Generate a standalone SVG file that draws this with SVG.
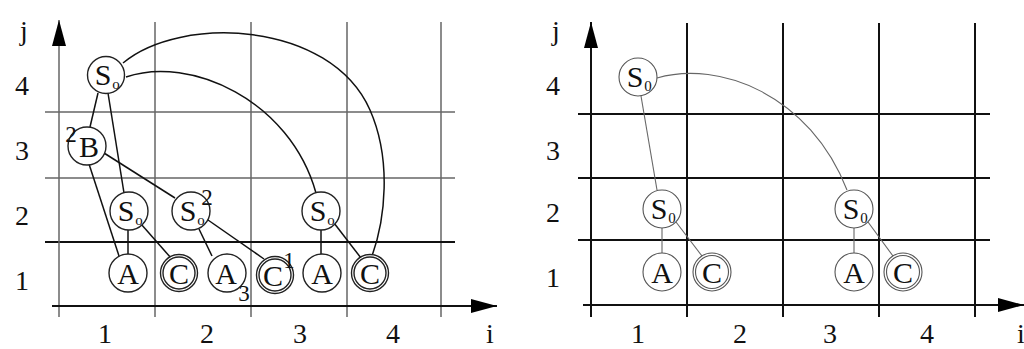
<svg xmlns="http://www.w3.org/2000/svg" width="1024" height="349" viewBox="0 0 1024 349">
<defs>
<marker id="arr" viewBox="0 0 26 14" refX="26" refY="7" markerWidth="26" markerHeight="14" markerUnits="userSpaceOnUse" orient="auto"><path d="M0,0 L26,7 L0,14 z" fill="#000"/></marker>
<style>
.lg{stroke:#666;stroke-width:1.5;fill:none}
.lk{stroke:#111;stroke-width:1.8;fill:none}
.rg{stroke:#111;stroke-width:2;fill:none}
.le{stroke:#111;stroke-width:1.5;fill:none}
.re{stroke:#666;stroke-width:1.1;fill:none}
.lc{stroke:#222;stroke-width:1.4;fill:#fff}
.rc{stroke:#555;stroke-width:1.1;fill:#fff}
.in{fill:none}
.ax{font-family:"Liberation Serif","Times New Roman",serif;font-size:28px;fill:#111;text-anchor:middle}
.nl{font-family:"Liberation Serif","Times New Roman",serif;font-size:30px;fill:#111;text-anchor:middle}
.sb{font-family:"Liberation Serif","Times New Roman",serif;font-size:15px;fill:#111;text-anchor:middle}
.sp{font-family:"Liberation Serif","Times New Roman",serif;font-size:23px;fill:#111;text-anchor:middle}
</style>
</defs>
<rect width="1024" height="349" fill="#fff"/>

<!-- LEFT PANEL -->
<g id="left-grid">
<line class="lg" x1="155" y1="22" x2="155" y2="317"/>
<line class="lg" x1="251" y1="22" x2="251" y2="317"/>
<line class="lg" x1="347" y1="22" x2="347" y2="317"/>
<line class="lg" x1="441" y1="22" x2="441" y2="317"/>
<line class="lg" x1="45" y1="112" x2="455" y2="112"/>
<line class="lg" x1="45" y1="178" x2="455" y2="178"/>
<line class="lk" x1="45" y1="242" x2="455" y2="242"/>
<line class="lg" x1="59" y1="317" x2="59" y2="20" marker-end="url(#arr)"/>
<line class="lk" x1="52" y1="306" x2="497" y2="306" marker-end="url(#arr)"/>
</g>
<g id="left-labels">
<text class="ax" x="24" y="40">j</text>
<text class="ax" x="22" y="95">4</text>
<text class="ax" x="22" y="160">3</text>
<text class="ax" x="22" y="225">2</text>
<text class="ax" x="22" y="290">1</text>
<text class="ax" x="105" y="343">1</text>
<text class="ax" x="207" y="343">2</text>
<text class="ax" x="300" y="343">3</text>
<text class="ax" x="393" y="343">4</text>
<text class="ax" x="490" y="343">i</text>
</g>
<g id="left-connectors">
<path class="le" d="M123,63 C180,15 330,20 370,110 C392,160 385,220 372,256"/>
<path class="le" d="M126,77 C190,55 290,100 316,193"/>
<line class="le" x1="98" y1="93" x2="90" y2="127"/>
<line class="le" x1="108" y1="93" x2="124" y2="193"/>
<line class="le" x1="89" y1="164" x2="119" y2="256"/>
<line class="le" x1="104" y1="153" x2="175" y2="198"/>
<line class="le" x1="128" y1="230" x2="128" y2="255"/>
<line class="le" x1="141" y1="224" x2="171" y2="258"/>
<line class="le" x1="199" y1="229" x2="212" y2="256"/>
<line class="le" x1="208" y1="220" x2="264" y2="259"/>
<line class="le" x1="321" y1="230" x2="321" y2="256"/>
<line class="le" x1="334" y1="223" x2="361" y2="258"/>
</g>
<g id="L-S0-top"><circle class="lc" cx="106" cy="75" r="18.5"/><text class="nl" x="103" y="85">S</text><text class="sb" x="116" y="89">o</text></g>
<g id="L-B"><circle class="lc" cx="87" cy="146" r="19"/><text class="nl" x="89" y="157">B</text><text class="sp" x="71" y="142">2</text></g>
<g id="L-S0-12"><circle class="lc" cx="129" cy="211" r="19"/><text class="nl" x="126" y="221">S</text><text class="sb" x="139" y="225">o</text></g>
<g id="L-S0-22"><circle class="lc" cx="191" cy="211" r="19"/><text class="nl" x="188" y="221">S</text><text class="sb" x="201" y="225">o</text><text class="sp" x="207" y="205">2</text></g>
<g id="L-S0-32"><circle class="lc" cx="321" cy="211" r="19"/><text class="nl" x="318" y="221">S</text><text class="sb" x="331" y="225">o</text></g>
<g id="L-A1"><circle class="lc" cx="128" cy="273" r="19"/><text class="nl" x="128" y="284">A</text></g>
<g id="L-C1"><circle class="lc" cx="179" cy="273" r="18.5"/><circle class="lc in" cx="179" cy="273" r="16"/><text class="nl" x="179" y="284">C</text></g>
<g id="L-A3"><circle class="lc" cx="227" cy="273" r="19"/><text class="nl" x="226" y="284">A</text><text class="sp" x="244" y="301">3</text></g>
<g id="L-C2"><circle class="lc" cx="275" cy="275" r="18.5"/><circle class="lc in" cx="275" cy="275" r="16"/><text class="nl" x="273" y="286">C</text><text class="sp" x="289" y="268">1</text></g>
<g id="L-A2"><circle class="lc" cx="322" cy="273" r="19"/><text class="nl" x="322" y="284">A</text></g>
<g id="L-C3"><circle class="lc" cx="370" cy="273" r="18.5"/><circle class="lc in" cx="370" cy="273" r="16"/><text class="nl" x="370" y="284">C</text></g>

<!-- RIGHT PANEL -->
<g id="right-grid">
<line class="rg" x1="687" y1="23" x2="687" y2="317"/>
<line class="rg" x1="783" y1="23" x2="783" y2="317"/>
<line class="rg" x1="879" y1="23" x2="879" y2="317"/>
<line class="rg" x1="975" y1="23" x2="975" y2="317"/>
<line class="rg" x1="578" y1="114" x2="990" y2="114"/>
<line class="rg" x1="578" y1="178" x2="990" y2="178"/>
<line class="rg" x1="578" y1="240" x2="990" y2="240"/>
<line class="rg" x1="591" y1="317" x2="591" y2="22" marker-end="url(#arr)"/>
<line class="rg" x1="583" y1="305" x2="1024" y2="305" marker-end="url(#arr)"/>
</g>
<g id="right-labels">
<text class="ax" x="556" y="40">j</text>
<text class="ax" x="553" y="95">4</text>
<text class="ax" x="553" y="160">3</text>
<text class="ax" x="553" y="222">2</text>
<text class="ax" x="553" y="287">1</text>
<text class="ax" x="638" y="343">1</text>
<text class="ax" x="740" y="343">2</text>
<text class="ax" x="830" y="343">3</text>
<text class="ax" x="927" y="343">4</text>
<text class="ax" x="1021" y="343">i</text>
</g>
<g id="right-connectors">
<path class="re" d="M657,78 C720,60 810,95 847,190"/>
<line class="re" x1="641" y1="96" x2="657" y2="190"/>
<line class="re" x1="662" y1="228" x2="662" y2="253"/>
<line class="re" x1="676" y1="222" x2="702" y2="256"/>
<line class="re" x1="854" y1="228" x2="854" y2="253"/>
<line class="re" x1="868" y1="222" x2="893" y2="256"/>
</g>
<g id="R-S0-top"><circle class="rc" cx="638" cy="77" r="19"/><text class="nl" x="635" y="87">S</text><text class="sb" x="648" y="91">0</text></g>
<g id="R-S0-12"><circle class="rc" cx="662" cy="209" r="19"/><text class="nl" x="659" y="219">S</text><text class="sb" x="672" y="223">0</text></g>
<g id="R-S0-32"><circle class="rc" cx="854" cy="209" r="19"/><text class="nl" x="851" y="219">S</text><text class="sb" x="864" y="223">0</text></g>
<g id="R-A1"><circle class="rc" cx="662" cy="272" r="19"/><text class="nl" x="662" y="283">A</text></g>
<g id="R-C1"><circle class="rc" cx="712" cy="272" r="19"/><circle class="rc in" cx="712" cy="272" r="16.5"/><text class="nl" x="712" y="283">C</text></g>
<g id="R-A2"><circle class="rc" cx="854" cy="272" r="19"/><text class="nl" x="854" y="283">A</text></g>
<g id="R-C2"><circle class="rc" cx="903" cy="272" r="19"/><circle class="rc in" cx="903" cy="272" r="16.5"/><text class="nl" x="903" y="283">C</text></g>
</svg>
